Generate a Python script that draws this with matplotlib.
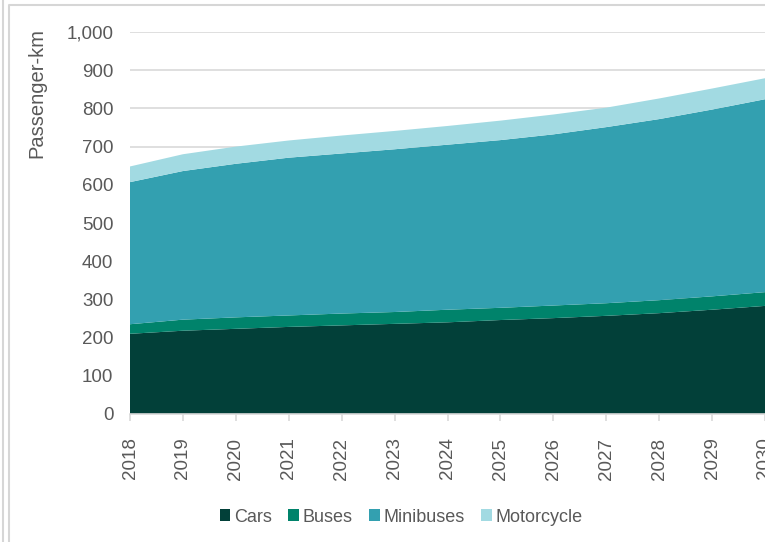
import matplotlib
matplotlib.use("Agg")
import matplotlib.pyplot as plt
from matplotlib.lines import Line2D
from matplotlib.patches import Patch
from matplotlib.ticker import FuncFormatter, MultipleLocator

plt.rcParams["font.family"] = ["Liberation Sans", "DejaVu Sans"]

years = [2018, 2019, 2020, 2021, 2022, 2023, 2024, 2025, 2026, 2027, 2028, 2029, 2030]
cars = [210, 218, 223, 228, 232, 236, 240, 246, 251, 257, 264, 273, 283]
buses = [25, 29, 30, 30, 31, 31, 33, 32, 33, 33, 34, 35, 36]
minibuses = [372, 389, 402, 413, 419, 426, 432, 439, 448, 461, 474, 489, 505]
motorcycle = [41, 44, 45, 45, 47, 48, 49, 51, 52, 51, 54, 55, 55]

series_names = ["Cars", "Buses", "Minibuses", "Motorcycle"]
series_colors = ["#024039", "#00836B", "#33A0B0", "#A2DAE2"]

TEXT = "#595959"
GRID = "#D9D9D9"

fig = plt.figure(figsize=(7.65, 5.42), dpi=100)
ax = fig.add_axes([130 / 765, 1 - 414 / 542, 635 / 765, (414 - 32) / 542])

ax.stackplot(years, cars, buses, minibuses, motorcycle,
             colors=series_colors, labels=series_names, linewidth=0, zorder=2)

ax.set_xlim(2018, 2030)
ax.set_ylim(0, 1000)
ax.yaxis.set_major_locator(MultipleLocator(100))
ax.yaxis.set_major_formatter(FuncFormatter(lambda v, p: f"{int(v):,}"))
ax.set_xticks(years)
ax.set_xticklabels([str(y) for y in years], rotation=90)

ax.grid(axis="y", color=GRID, linewidth=1.2, zorder=0)
ax.set_axisbelow(True)
for side in ["top", "right", "left"]:
    ax.spines[side].set_visible(False)
ax.spines["bottom"].set_color(GRID)
ax.spines["bottom"].set_linewidth(1.2)
ax.spines["bottom"].set_zorder(3)

ax.tick_params(axis="y", length=0, pad=12, labelsize=13.5, labelcolor=TEXT)
ax.tick_params(axis="x", length=5, width=1.2, color=GRID, pad=12,
               labelsize=13.5, labelcolor=TEXT)

fig.text(37 / 765, 1 - 93 / 542, "Passenger-km", rotation=90, ha="center",
         va="center", fontsize=14.5, color=TEXT)

handles = [Patch(facecolor=c, edgecolor="none") for c in series_colors]
fig.legend(handles, series_names, loc="center",
           bbox_to_anchor=(401 / 765, 1 - 517 / 542), ncol=4, frameon=False,
           fontsize=13, labelcolor=TEXT, handlelength=0.6, handleheight=0.6,
           handletextpad=0.2, columnspacing=0.9)

# outer panel border
W, H = 765, 542
fig.add_artist(Line2D([2.5 / W, 2.5 / W], [0, 1], color="#D6D6D6", lw=1.5,
                      transform=fig.transFigure))
fig.add_artist(Line2D([8.5 / W, 8.5 / W, 1], [0, 1 - 5 / H, 1 - 5 / H],
                      color="#D6D6D6", lw=1.5, transform=fig.transFigure))

fig.savefig("out.png", dpi=100)
